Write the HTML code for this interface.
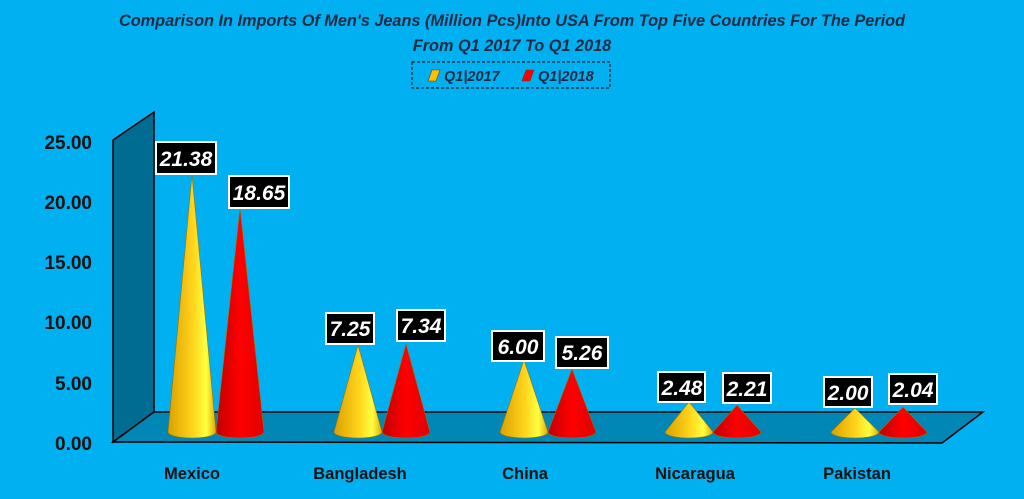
<!DOCTYPE html>
<html><head><meta charset="utf-8"><style>
body{margin:0;background:#00b0f0;}
svg{display:block;font-family:"Liberation Sans",sans-serif;}
</style></head><body>
<svg width="1024" height="499" viewBox="0 0 1024 499">
<defs>
<linearGradient id="y" x1="0" x2="1" y1="0" y2="0">
<stop offset="0" stop-color="#d9a000"/><stop offset="0.5" stop-color="#ffd21a"/><stop offset="0.8" stop-color="#ffff40"/><stop offset="1" stop-color="#e0a800"/></linearGradient>
<linearGradient id="r" x1="0" x2="1" y1="0" y2="0">
<stop offset="0" stop-color="#c00000"/><stop offset="0.5" stop-color="#ff0000"/><stop offset="1" stop-color="#e00000"/></linearGradient>
</defs>
<rect width="1024" height="499" fill="#00b0f0"/>
<text x="512" y="26" text-anchor="middle" font-size="16.3" font-weight="bold" font-style="italic" fill="#1f2a44">Comparison In Imports Of Men's Jeans (Million Pcs)Into USA From Top Five Countries For The Period</text>
<text x="512" y="51" text-anchor="middle" font-size="16.3" font-weight="bold" font-style="italic" fill="#1f2a44">From Q1 2017 To Q1 2018</text>
<rect x="412" y="62" width="198" height="26" fill="none" stroke="#000" stroke-dasharray="3,2"/>
<path d="M428 81 L432 70 L440 70 L436 81Z" fill="#ffc000" stroke="#444" stroke-width="0.6"/>
<text x="444" y="81" font-size="14.5" font-weight="bold" font-style="italic" fill="#1f2a44">Q1|2017</text>
<path d="M522 81 L526 70 L534 70 L530 81Z" fill="#ff0000" stroke="#444" stroke-width="0.6"/>
<text x="538" y="81" font-size="14.5" font-weight="bold" font-style="italic" fill="#1f2a44">Q1|2018</text>
<polygon points="113,140 154,112 154,412 113,442" fill="#006c91" stroke="#000" stroke-width="1.5"/>
<polygon points="154,412 983,412 942,443 113,442" fill="#0087b5" stroke="#000" stroke-width="1.5"/>
<g font-size="19" font-weight="bold" fill="#111" text-anchor="end">
<text x="92" y="149">25.00</text><text x="92" y="209">20.00</text><text x="92" y="269">15.00</text>
<text x="92" y="329">10.00</text><text x="92" y="390">5.00</text><text x="92" y="450">0.00</text>
</g>
<g font-size="16.5" font-weight="bold" fill="#111" text-anchor="middle">
<text x="192" y="479">Mexico</text><text x="360" y="479">Bangladesh</text><text x="525" y="479">China</text>
<text x="695" y="479">Nicaragua</text><text x="857" y="479">Pakistan</text>
</g>
<g stroke="#a07000" stroke-width="0.6">
<path d="M168 432 L192 175 L216 432 A24 6 0 0 1 168 432Z" fill="url(#y)"/>
<path d="M216 432 L240 208 L264 432 A24 6 0 0 1 216 432Z" fill="url(#r)"/>
<path d="M334 432 L358 345 L382 432 A24 6 0 0 1 334 432Z" fill="url(#y)"/>
<path d="M382 432 L406 344 L430 432 A24 6 0 0 1 382 432Z" fill="url(#r)"/>
<path d="M500 432 L524 360 L548 432 A24 6 0 0 1 500 432Z" fill="url(#y)"/>
<path d="M548 432 L572 369 L596 432 A24 6 0 0 1 548 432Z" fill="url(#r)"/>
<path d="M665 432 L689 402 L713 432 A24 6 0 0 1 665 432Z" fill="url(#y)"/>
<path d="M713 432 L737 405 L761 432 A24 6 0 0 1 713 432Z" fill="url(#r)"/>
<path d="M831 432 L855 408 L879 432 A24 6 0 0 1 831 432Z" fill="url(#y)"/>
<path d="M879 432 L903 407 L927 432 A24 6 0 0 1 879 432Z" fill="url(#r)"/>
</g>
<g font-size="21" font-weight="bold" font-style="italic" fill="#fff" text-anchor="middle">
<rect x="156" y="142" width="60" height="32" fill="#000" stroke="#fff" stroke-width="2"/><text x="186" y="166">21.38</text>
<rect x="229" y="176" width="60" height="32" fill="#000" stroke="#fff" stroke-width="2"/><text x="259" y="200">18.65</text>
<rect x="326" y="313" width="48" height="31" fill="#000" stroke="#fff" stroke-width="2"/><text x="350" y="336">7.25</text>
<rect x="397" y="310" width="48" height="31" fill="#000" stroke="#fff" stroke-width="2"/><text x="421" y="333">7.34</text>
<rect x="492" y="331" width="52" height="30" fill="#000" stroke="#fff" stroke-width="2"/><text x="518" y="354">6.00</text>
<rect x="556" y="337" width="52" height="31" fill="#000" stroke="#fff" stroke-width="2"/><text x="582" y="360">5.26</text>
<rect x="658" y="372" width="47" height="30" fill="#000" stroke="#fff" stroke-width="2"/><text x="682" y="395">2.48</text>
<rect x="723" y="373" width="48" height="30" fill="#000" stroke="#fff" stroke-width="2"/><text x="747" y="396">2.21</text>
<rect x="824" y="377" width="48" height="30" fill="#000" stroke="#fff" stroke-width="2"/><text x="848" y="400">2.00</text>
<rect x="889" y="374" width="48" height="30" fill="#000" stroke="#fff" stroke-width="2"/><text x="913" y="397">2.04</text>
</g>
</svg>
</body></html>
